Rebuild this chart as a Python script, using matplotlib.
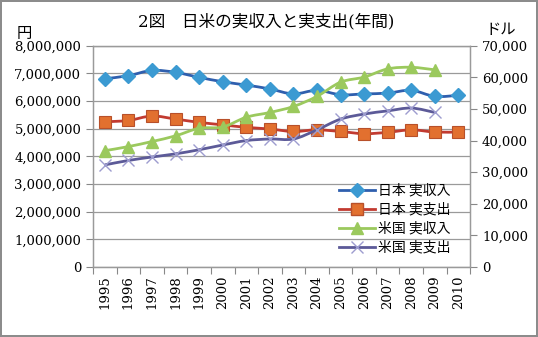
import matplotlib.pyplot as plt
from matplotlib.path import Path
from matplotlib.patches import PathPatch
from matplotlib.lines import Line2D
from matplotlib.ticker import FuncFormatter

years = list(range(1995, 2011))
jp_income = [6810000, 6920000, 7110000, 7040000, 6860000, 6700000, 6580000, 6440000,
             6260000, 6390000, 6230000, 6260000, 6290000, 6390000, 6170000, 6210000]
jp_spend = [5250000, 5300000, 5460000, 5350000, 5230000, 5140000, 5050000, 4990000,
            4900000, 4960000, 4900000, 4820000, 4870000, 4960000, 4880000, 4880000]
us_years = list(range(1995, 2010))
us_income = [36800, 38100, 39700, 41500, 43900, 44300, 47400, 48900,
             50800, 54000, 58500, 60100, 62700, 63200, 62400]
us_spend = [32300, 33700, 34800, 35800, 37100, 38600, 40000, 40500,
            40500, 43400, 46800, 48400, 49400, 50300, 48900]

serif = ['DejaVu Serif', 'Noto Sans CJK JP']
jfont = ['Noto Sans CJK JP', 'DejaVu Sans']


def smooth(ax, xs, ys, color, lw):
    # excel-like smoothed line (catmull-rom as bezier)
    pts = list(zip(xs, ys))
    verts = [pts[0]]
    codes = [Path.MOVETO]
    t = 1 / 6
    for i in range(len(pts) - 1):
        p0 = pts[i - 1] if i > 0 else pts[i]
        p1 = pts[i]
        p2 = pts[i + 1]
        p3 = pts[i + 2] if i + 2 < len(pts) else pts[i + 1]
        c1 = (p1[0] + (p2[0] - p0[0]) * t, p1[1] + (p2[1] - p0[1]) * t)
        c2 = (p2[0] - (p3[0] - p1[0]) * t, p2[1] - (p3[1] - p1[1]) * t)
        verts += [c1, c2, p2]
        codes += [Path.CURVE4] * 3
    ax.add_patch(PathPatch(Path(verts, codes), fill=False, edgecolor=color, lw=lw, zorder=3))


fig = plt.figure(figsize=(5.38, 3.37), dpi=100)
fig.patch.set_edgecolor('#8c8c8c')
fig.patch.set_linewidth(1.5)
ax = fig.add_axes([0.173, 0.208, 0.701, 0.656])
ax2 = ax.twinx()

x = list(range(len(years)))
xu = list(range(len(us_years)))

smooth(ax, x, jp_income, '#2f5fae', 2.0)
ax.plot(x, jp_income, ls='none', marker='D', ms=7, color='#3b9ad2', mec='#3b9ad2', zorder=4)
smooth(ax, x, jp_spend, '#c23a30', 2.0)
ax.plot(x, jp_spend, ls='none', marker='s', ms=8.5, color='#e2702f', mec='#b8502a', mew=0.8, zorder=4)
smooth(ax2, xu, us_income, '#9bc95d', 2.0)
ax2.plot(xu, us_income, ls='none', marker='^', ms=9, color='#9bc95d', zorder=4)
smooth(ax2, xu, us_spend, '#5c5a98', 2.0)
ax2.plot(xu, us_spend, ls='none', marker='x', ms=8, color='#9d9ccf', mew=1, zorder=4)

ax.set_xlim(-0.5, len(years) - 0.5)
ax.set_ylim(0, 8000000)
ax2.set_ylim(0, 70000)
ax.set_yticks(range(0, 8000001, 1000000))
ax2.set_yticks(range(0, 70001, 10000))
fmt = FuncFormatter(lambda v, p: f'{int(v):,}')
ax.yaxis.set_major_formatter(fmt)
ax2.yaxis.set_major_formatter(fmt)
ax.set_xticks([i - 0.5 for i in range(len(years) + 1)])
ax.set_xticklabels([])
ax.set_xticks(x, minor=True)
ax.set_xticklabels([str(y) for y in years], minor=True, rotation=90,
                   family='DejaVu Serif', fontsize=9.5)
ax.tick_params(axis='x', which='minor', length=0, pad=6)
ax.tick_params(axis='x', which='major', length=5, color='#888888')
ax.tick_params(axis='y', length=5, color='#888888')
ax2.tick_params(axis='y', length=5, color='#888888')
for lab in ax.get_yticklabels() + ax2.get_yticklabels():
    lab.set_family('DejaVu Serif')
    lab.set_fontsize(9.5)
ax.grid(axis='y', color='#9a9a9a', lw=0.9)
ax.set_axisbelow(True)
for a in (ax, ax2):
    for s in a.spines.values():
        s.set_color('#9a9a9a')
        s.set_linewidth(0.9)

fig.text(0.495, 0.935, '2図　日米の実収入と実支出(年間)', ha='center', va='center',
         fontsize=12, family=serif)
fig.text(0.045, 0.9, '円', ha='center', va='center', fontsize=11, family=jfont)
fig.text(0.93, 0.912, 'ドル', ha='center', va='center', fontsize=11, family=jfont)

handles = [
    Line2D([], [], color='#2f5fae', lw=2.0, marker='D', ms=7, mfc='#3b9ad2', mec='#3b9ad2'),
    Line2D([], [], color='#c23a30', lw=2.0, marker='s', ms=8.5, mfc='#e2702f', mec='#b8502a'),
    Line2D([], [], color='#9bc95d', lw=2.0, marker='^', ms=9),
    Line2D([], [], color='#5c5a98', lw=2.0, marker='x', ms=8, mec='#9d9ccf'),
]
labels = ['日本 実収入', '日本 実支出', '米国 実収入', '米国 実支出']
ax2.legend(handles, labels, loc='lower right', bbox_to_anchor=(0.98, 0.0),
           frameon=False, prop={'family': jfont, 'size': 10},
           handlelength=2.6, handletextpad=0.2, labelspacing=0.35)

fig.savefig('out.png', dpi=100)
